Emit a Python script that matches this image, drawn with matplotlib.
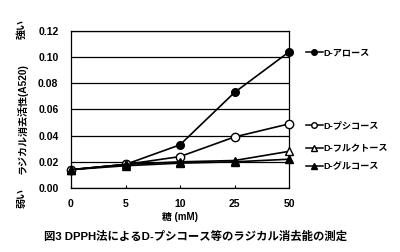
import matplotlib
matplotlib.use("Agg")
import matplotlib.pyplot as plt
import numpy as np

plt.rcParams['font.family'] = ['Liberation Sans', 'Noto Sans CJK JP', 'DejaVu Sans']
plt.rcParams['font.weight'] = 'bold'

x_labels = ["0", "5", "10", "25", "50"]
allose = [0.014, 0.018, 0.033, 0.073, 0.104]
psicose = [0.014, 0.018, 0.024, 0.039, 0.049]
fructose = [0.014, 0.018, 0.020, 0.021, 0.028]
glucose = [0.014, 0.017, 0.019, 0.020, 0.022]
names = ["D-アロース", "D-プシコース", "D-フルクトース", "D-グルコース"]
yticks = [0.00, 0.02, 0.04, 0.06, 0.08, 0.10, 0.12]

fig = plt.figure(figsize=(4.0, 2.52), dpi=100)
ax = fig.add_axes([0.1775, 0.254, 0.545, 0.623])
xs = np.arange(len(x_labels))

styles = [
    dict(marker='o', mfc='black', ms=5.5),
    dict(marker='o', mfc='white', ms=6),
    dict(marker='^', mfc='white', ms=5.5),
    dict(marker='^', mfc='black', ms=5.5),
]
series = [allose, psicose, fructose, glucose]
lines = []
for vals, st in zip(series, styles):
    ln, = ax.plot(xs, vals, color='black', lw=1.2, mec='black', mew=1.0,
                  clip_on=False, zorder=3, **st)
    lines.append(ln)

ax.set_xlim(0, 4)
ax.set_ylim(0, 0.12)
ax.set_yticks(yticks)
ax.set_yticklabels([f"{v:.2f}" for v in yticks])
ax.set_xticks(xs)
ax.set_xticklabels(x_labels)
for v in yticks:
    ax.axhline(v, color='black', lw=0.9, zorder=1)
for s in ax.spines.values():
    s.set_linewidth(0.9)
ax.tick_params(axis='y', length=0, pad=9, labelsize=7.5)
ax.tick_params(axis='x', direction='in', length=2, pad=8, labelsize=7.5)
for t in ax.get_xticklabels() + ax.get_yticklabels():
    t.set_fontweight('bold')

ax.set_xlabel("糖 (mM)", fontsize=7, fontweight='bold', labelpad=2)

fig.text(0.055, 0.53, "ラジカル消去活性(A520)", rotation=90, ha='center', va='center',
         fontsize=7.2, fontweight='bold')
fig.text(0.055, 0.885, "強い", rotation=90, ha='center', va='center',
         fontsize=7.2, fontweight='bold')
fig.text(0.055, 0.215, "弱い", rotation=90, ha='center', va='center',
         fontsize=7.2, fontweight='bold')

fig.text(0.49, 0.063, "図3 DPPH法によるD-プシコース等のラジカル消去能の測定",
         ha='center', va='center', fontsize=8.2, fontweight='bold')

label_y = [0.790, 0.500, 0.409, 0.337]
for ln, nm, yy in zip(lines, names, label_y):
    lg = fig.legend([ln], [nm], loc='center left', bbox_to_anchor=(0.765, yy),
                    frameon=False, handlelength=1.8,
                    handletextpad=0.1, borderpad=0, borderaxespad=0,
                    prop={'weight': 'bold', 'size': 6.6})
    for h in lg.legend_handles:
        h.set_markersize(4)
        h.set_linewidth(1.1)

fig.savefig("out.png", dpi=100)
